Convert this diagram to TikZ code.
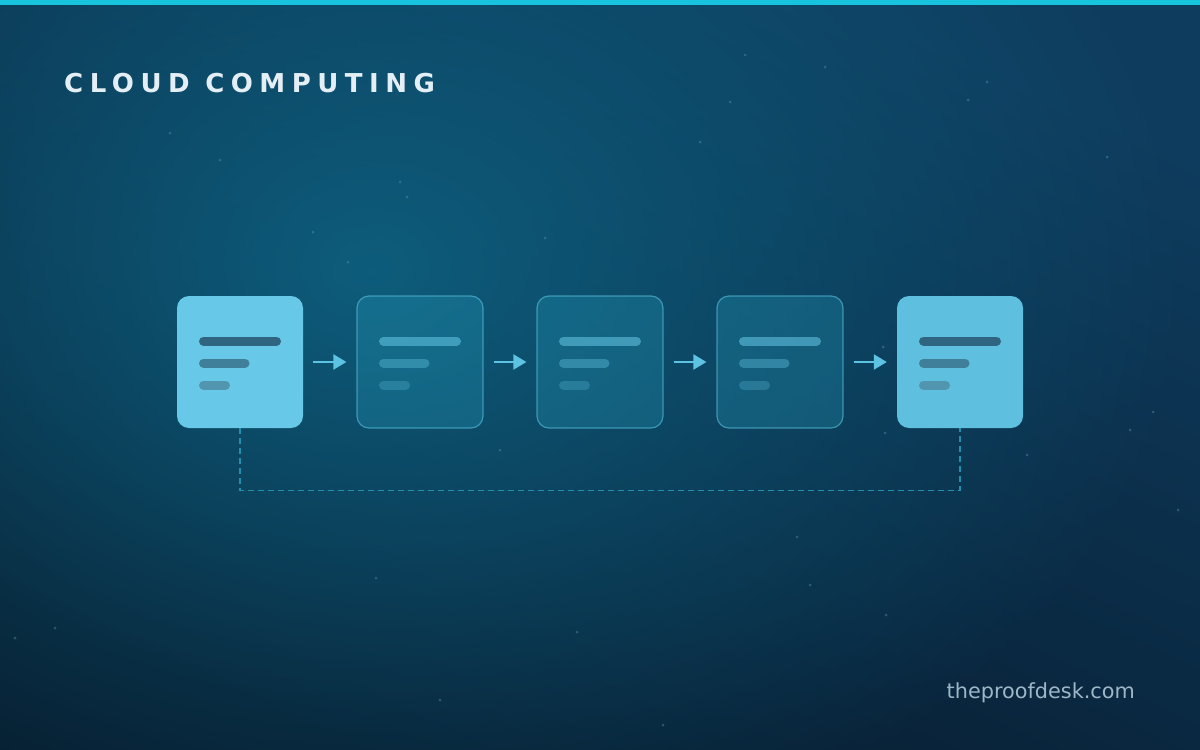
\documentclass[tikz,border=0pt]{standalone}
\usepackage{fontspec}
\setmainfont{DejaVu Sans}
\usetikzlibrary{arrows.meta,fadings}
\definecolor{basedark}{HTML}{071A2C}
\definecolor{basetop}{HTML}{0E3C5E}
\definecolor{glowc}{HTML}{0E6585}
\definecolor{topbar}{HTML}{17C3DD}
\definecolor{solidbox}{HTML}{67C9E7}
\definecolor{solidbox2}{HTML}{5EBFDF}
\definecolor{ghostfill}{HTML}{2BB0D0}
\definecolor{ghostline}{HTML}{5AC3E0}
\definecolor{bardarkA}{HTML}{2F6580}
\definecolor{bardarkB}{HTML}{3F7F9A}
\definecolor{bardarkC}{HTML}{5295AF}
\definecolor{barlight}{HTML}{66C8E6}
\definecolor{arrowc}{HTML}{5CC3E3}
\definecolor{dashc}{HTML}{2390AB}
\definecolor{titlec}{HTML}{E3EEF5}
\definecolor{markc}{HTML}{9DB7C8}
\definecolor{dotc}{HTML}{5A9AB8}
\tikzfading[name=glowfade, inner color=transparent!0, outer color=transparent!100]
\begin{document}
\begin{tikzpicture}[x=1pt,y=-1pt,
  card/.style={rectangle, rounded corners=12pt, minimum width=126pt, minimum height=132pt, inner sep=0pt},
  solidcard/.style={card, fill=solidbox},
  ghostcard/.style={card, fill=ghostfill, fill opacity=0.24, draw=ghostline, draw opacity=0.6, line width=1.2pt, text opacity=1},
  bar/.style={line width=9pt, line cap=round},
  flow/.style={arrowc, line width=2.2pt, -{Triangle[width=15pt,length=13pt]}, shorten <=10pt, shorten >=10pt},
  link/.style={dashc, line width=1.4pt, dash pattern=on 6pt off 4pt},
  speck/.style={dotc, opacity=0.4}
]
\useasboundingbox (0,0) rectangle (1200,750);
% background
\shade[top color=basetop, bottom color=basedark, shading angle=-25] (0,0) rectangle (1200,750);
\begin{scope}
\clip (0,0) rectangle (1200,750);
\fill[glowc, opacity=0.85, path fading=glowfade] (370,270) ellipse (820pt and 620pt);
\end{scope}
\fill[topbar] (0,0) rectangle (1200,5);
% specks
\foreach \p in {(745,55),(825,67),(987,82),(968,100),(730,102),(170,133),(220,160),(400,182),(407,197),(545,238),(700,142),(313,232),(348,262),(883,347),(885,433),(1027,455),(1153,412),(1130,430),(1178,510),(797,537),(810,585),(886,615),(577,632),(376,578),(55,628),(15,638),(440,700),(663,725),(500,450),(1107,157)}
  \fill[speck] \p circle (1.5pt);
% title
\node[anchor=base west, inner sep=0pt, text=titlec, font=\fontsize{26}{30}\selectfont\bfseries\addfontfeatures{LetterSpace=25}] (title) at (64,92) {CLOUD COMPUTING};
% cards
\node[solidcard] (b1) at (240,362) {};
\node[ghostcard] (b2) at (420,362) {};
\node[ghostcard] (b3) at (600,362) {};
\node[ghostcard] (b4) at (780,362) {};
\node[solidcard, fill=solidbox2] (b5) at (960,362) {};
% bars
\foreach \b in {b1,b5}{
  \draw[bar, bardarkA] ([shift={(-36.5,-21)}]\b.center) -- ++(73,0);
  \draw[bar, bardarkB] ([shift={(-36.5,1)}]\b.center) -- ++(41.5,0);
  \draw[bar, bardarkC] ([shift={(-36.5,23)}]\b.center) -- ++(22,0);
}
\foreach \b in {b2,b3,b4}{
  \draw[bar, barlight, opacity=0.55] ([shift={(-36.5,-21)}]\b.center) -- ++(73,0);
  \draw[bar, barlight, opacity=0.38] ([shift={(-36.5,1)}]\b.center) -- ++(41.5,0);
  \draw[bar, barlight, opacity=0.26] ([shift={(-36.5,23)}]\b.center) -- ++(22,0);
}
% arrows
\draw[flow] (b1.east) -- (b2.west);
\draw[flow] (b2.east) -- (b3.west);
\draw[flow] (b3.east) -- (b4.west);
\draw[flow] (b4.east) -- (b5.west);
% feedback link
\draw[link] (b1.south) -- ++(0,62) -| (b5.south);
% watermark
\node[anchor=base east, inner sep=0pt, text=markc, font=\fontsize{20.8}{24}\selectfont] (mark) at (1135,698) {theproofdesk.com};
\end{tikzpicture}
\end{document}
